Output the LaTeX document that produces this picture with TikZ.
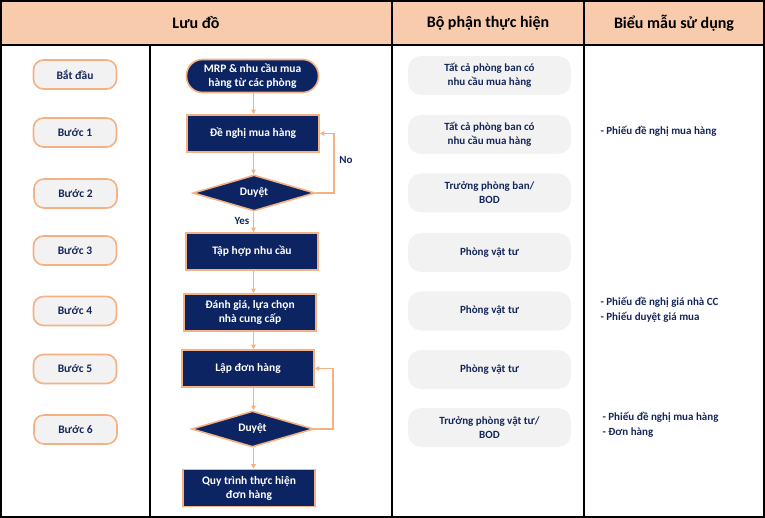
\documentclass[tikz,border=0pt]{standalone}
\usepackage{fontspec}
\setmainfont{Carlito}
\usetikzlibrary{shapes.geometric,arrows.meta}
\definecolor{hdr}{HTML}{F8CBAD}
\definecolor{peach}{HTML}{F4B183}
\definecolor{navy}{HTML}{0C2461}
\definecolor{ink}{HTML}{15265A}
\definecolor{pillgray}{HTML}{F2F2F2}
\tikzset{
  stepbox/.style={draw=peach, line width=1.6pt, fill=pillgray, rounded corners=10pt,
    minimum width=83pt, minimum height=29pt, inner sep=0pt,
    font=\fontsize{11.5}{13}\selectfont\bfseries, text=ink},
  deptbox/.style={fill=pillgray, rounded corners=13pt, minimum width=163pt, minimum height=39pt,
    inner sep=0pt, align=center, font=\fontsize{11}{14}\selectfont\bfseries, text=ink},
  procbox/.style={draw=peach, line width=1.6pt, fill=navy, minimum width=132pt, minimum height=37pt,
    inner sep=0pt, align=center, font=\fontsize{11.5}{14}\selectfont\bfseries, text=white},
  termbox/.style={procbox, rounded corners=16pt, minimum height=33pt},
  decbox/.style={diamond, draw=peach, line width=1.6pt, fill=navy, aspect=3.4,
    minimum width=122pt, minimum height=36pt, inner sep=0pt,
    font=\fontsize{11.5}{14}\selectfont\bfseries, text=white},
  arr/.style={draw=peach, line width=1.6pt, -{Triangle[length=4.5pt,width=4.5pt]}},
  hdrtext/.style={font=\fontsize{16}{19}\selectfont\bfseries, text=black},
  formtext/.style={anchor=west, font=\fontsize{11}{15}\selectfont\bfseries, text=ink, align=left},
  lbl/.style={font=\fontsize{11}{13}\selectfont\bfseries, text=ink},
}
\begin{document}
\begin{tikzpicture}[x=1pt,y=-1pt]
\useasboundingbox (0,0) rectangle (765,518);
% header
\fill[hdr] (1,1) rectangle (764,45);
\draw[line width=1.6pt] (1,1) rectangle (764,517);
\draw[line width=1.6pt] (1,45) -- (764,45);
\draw[line width=1.6pt] (392,1) -- (392,517);
\draw[line width=1.6pt] (584,1) -- (584,517);
\draw[line width=1.6pt] (150,45) -- (150,517);
\node[hdrtext] (h1) at (196,23) {Lưu đồ};
\node[hdrtext] (h2) at (488,23) {Bộ phận thực hiện};
\node[hdrtext] (h3) at (674,23) {Biểu mẫu sử dụng};
% steps
\node[stepbox] (s0) at (75,74.5) {Bắt đầu};
\node[stepbox] (s1) at (75,132.5) {Bước 1};
\node[stepbox] (s2) at (75.5,193.5) {Bước 2};
\node[stepbox] (s3) at (75,250.5) {Bước 3};
\node[stepbox] (s4) at (75,311) {Bước 4};
\node[stepbox] (s5) at (75,369) {Bước 5};
\node[stepbox] (s6) at (75.5,429.5) {Bước 6};
% flowchart
\node[termbox] (st) at (252.5,76) {MRP \& nhu cầu mua\\hàng từ các phòng};
\node[procbox] (r1) at (253,133.5) {Đề nghị  mua hàng};
\node[decbox] (d1) at (254,193) {Duyệt};
\node[procbox] (r2) at (252,251.5) {Tập hợp nhu cầu};
\node[procbox] (r3) at (250,312.5) {Đánh giá, lựa chọn\\nhà  cung cấp};
\node[procbox] (r4) at (248,368.5) {Lập đơn hàng};
\node[decbox] (d2) at (252.5,429) {Duyệt};
\node[procbox] (r5) at (249,488) {Quy trình thực hiện\\đơn hàng};
\coordinate (ax) at (253.5,0);
\draw[arr] (ax |- st.south) -- (ax |- r1.north);
\draw[arr] (ax |- r1.south) -- (ax |- d1.north);
\draw[arr] (ax |- d1.south) -- (ax |- r2.north);
\draw[arr] (ax |- r2.south) -- (ax |- r3.north);
\draw[arr] (ax |- r3.south) -- (ax |- r4.north);
\draw[arr] (ax |- r4.south) -- (ax |- d2.north);
\draw[arr] (ax |- d2.south) -- (ax |- r5.north);
\coordinate (lx1) at (334,0);
\coordinate (lx2) at (333,0);
\draw[arr] (d1.east) -- (lx1 |- d1.east) -- (lx1 |- r1.east) -- (r1.east);
\draw[arr] (d2.east) -- (lx2 |- d2.east) -- (lx2 |- r4.east) -- (r4.east);
\node[lbl] (no) at (346,160) {No};
\node[lbl] (yes) at (242,221) {Yes};
% departments
\node[deptbox] (p0) at (489.5,75.5) {Tất cả phòng  ban có\\nhu cầu mua hàng};
\node[deptbox] (p1) at (489.5,134.5) {Tất cả phòng  ban có\\nhu cầu mua hàng};
\node[deptbox] (p2) at (489.5,193) {Trưởng phòng  ban/\\BOD};
\node[deptbox] (p3) at (489.5,252.5) {Phòng  vật tư};
\node[deptbox] (p4) at (489.5,311) {Phòng  vật tư};
\node[deptbox] (p5) at (489.5,369.5) {Phòng  vật tư};
\node[deptbox] (p6) at (489.5,427.5) {Trưởng phòng  vật tư/\\BOD};
% forms
\node[formtext] (f1) at (597,131) {- Phiếu đề nghị mua hàng};
\node[formtext] (f4) at (597,309.5) {- Phiếu đề nghị giá nhà  CC\\- Phiếu duyệt  giá mua};
\node[formtext] (f6) at (599,424.5) {- Phiếu đề nghị mua hàng\\- Đơn hàng};
\end{tikzpicture}
\end{document}
